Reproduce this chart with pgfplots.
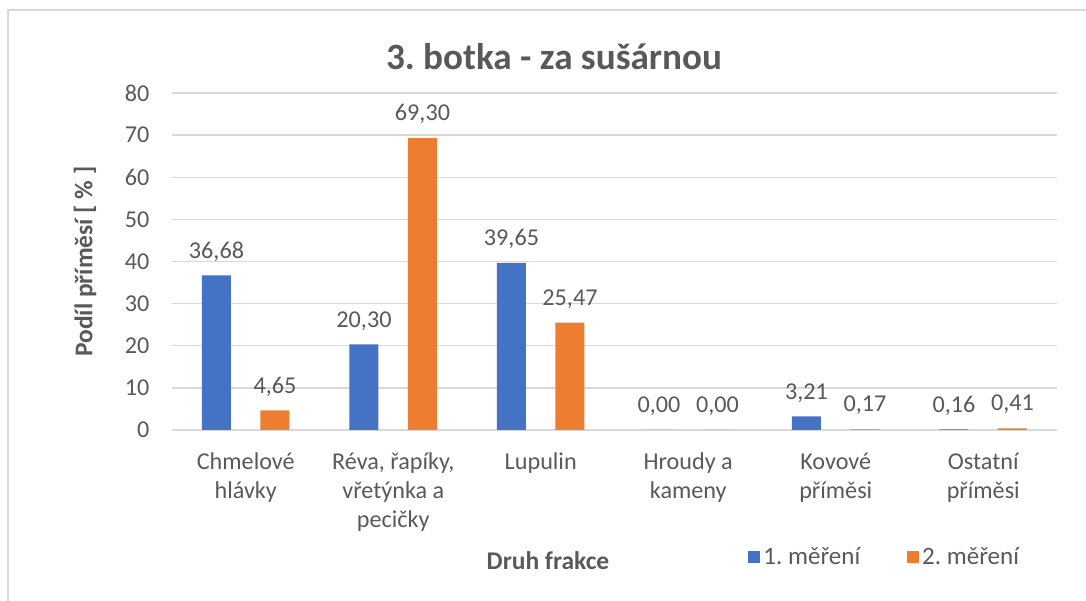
\documentclass[border=0pt]{standalone}
\usepackage{pgfplots}
\pgfplotsset{compat=1.18}
\usepackage{fontspec}
\setmainfont{Carlito}
\definecolor{txt}{HTML}{595959}
\definecolor{gridc}{HTML}{D9D9D9}
\definecolor{bluebar}{HTML}{4472C4}
\definecolor{orangebar}{HTML}{ED7D31}
\begin{document}
\begin{tikzpicture}
\useasboundingbox (-103.2pt,-102.6pt) rectangle (548.4pt,258pt);
\draw[gridc, line width=0.8pt] (-98.4pt,-110pt) -- (-98.4pt,252pt) -- (560pt,252pt);
\begin{axis}[
  at={(0,0)}, anchor=south west,
  scale only axis,
  width=531pt, height=202.2pt,
  ybar=17.7pt, bar width=17.4pt,
  xmin=-0.5, xmax=5.5, ymin=0, ymax=80,
  ytick={0,10,...,80},
  xtick=data,
  xticklabels={{Chmelové\\hlávky},{Réva, řapíky,\\vřetýnka a\\pecičky},{Lupulin},{Hroudy a\\kameny},{Kovové\\příměsi},{Ostatní\\příměsi}},
  axis line style={draw=none},
  major tick length=0pt,
  ymajorgrids, grid style={gridc, line width=0.8pt},
  every tick label/.append style={font=\fontsize{14.5}{17.4}\selectfont, text=txt},
  xticklabel style={align=center, yshift=-10pt},
  yticklabel style={xshift=-10pt},
  /pgf/number format/assume math mode=true,
  nodes near coords,
  every node near coord/.append style={font=\fontsize{14.5}{17.4}\selectfont, text=txt, yshift=5pt,
    /pgf/number format/.cd, fixed, fixed zerofill, precision=2, use comma},
  legend columns=2,
  legend style={draw=none, fill=none, at={(0.645,-0.377)}, anchor=west,
    font=\fontsize{15}{18}\selectfont, text=txt,
    /tikz/every even column/.append style={column sep=26pt}},
  legend image code/.code={\fill[#1] (0pt,-3.6pt) rectangle (7.2pt,3.6pt);},
]
\addplot[fill=bluebar, draw=none] coordinates {(0,36.68) (1,20.30) (2,39.65) (3,0.00) (4,3.21) (5,0.16)};
\addlegendentry{1.\ měření}
\addplot[fill=orangebar, draw=none] coordinates {(0,4.65) (1,69.30) (2,25.47) (3,0.00) (4,0.17) (5,0.41)};
\addlegendentry{2.\ měření}
\end{axis}
\node[font=\fontsize{22.3}{26}\bfseries, text=txt] at (229.2pt,223.8pt) {3.\ botka - za sušárnou};
\node[font=\fontsize{15.3}{18}\bfseries, text=txt, rotate=90] at (-52.2pt,101pt) {Podíl příměsí [ \% ]};
\node[font=\fontsize{15.3}{18}\bfseries, text=txt] at (225.6pt,-78.6pt) {Druh frakce};
\end{tikzpicture}
\end{document}
